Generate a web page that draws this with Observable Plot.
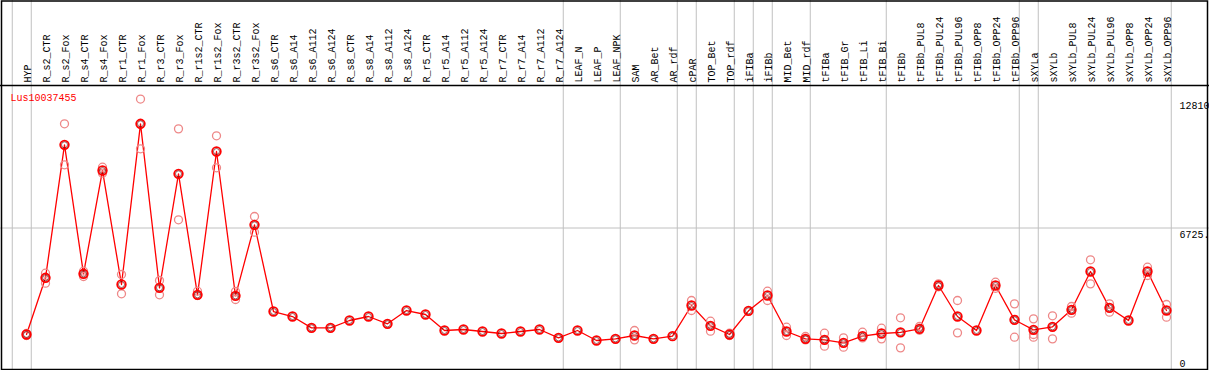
<!DOCTYPE html>
<html><head><meta charset="utf-8">
<script src="https://cdn.jsdelivr.net/npm/d3@7"></script>
<script src="https://cdn.jsdelivr.net/npm/@observablehq/plot@0.6"></script>
<style>body{margin:0;background:#fff}svg{display:block}</style>
</head><body><div id="chart"></div>
<script>
const geneName = "Lus10037455";
const categories = ["HYP","R_s2_CTR","R_s2_Fox","R_s4_CTR","R_s4_Fox","R_r1_CTR","R_r1_Fox","R_r3_CTR","R_r3_Fox","R_r1s2_CTR","R_r1s2_Fox","R_r3s2_CTR","R_r3s2_Fox","R_s6_CTR","R_s6_A14","R_s6_A112","R_s6_A124","R_s8_CTR","R_s8_A14","R_s8_A112","R_s8_A124","R_r5_CTR","R_r5_A14","R_r5_A112","R_r5_A124","R_r7_CTR","R_r7_A14","R_r7_A112","R_r7_A124","LEAF_N","LEAF_P","LEAF_NPK","SAM","AR_Bet","AR_rdf","cPAR","TOP_Bet","TOP_rdf","iFIBa","iFIBb","MID_Bet","MID_rdf","tFIBa","tFIB_Gr","tFIB_Li","tFIB_Bi","tFIBb","tFIBb_PUL8","tFIBb_PUL24","tFIBb_PUL96","tFIBb_OPP8","tFIBb_OPP24","tFIBb_OPP96","sXYLa","sXYLb","sXYLb_PUL8","sXYLb_PUL24","sXYLb_PUL96","sXYLb_OPP8","sXYLb_OPP24","sXYLb_OPP96"];
const means = [1699,4374,10650,4563,9438,4058,11642,3901,9281,3571,10335,3524,6874,2784,2548,2013,2013,2360,2548,2202,2831,2643,1888,1935,1840,1746,1840,1935,1541,1888,1416,1494,1652,1494,1620,3067,2108,1699,2816,3539,1840,1494,1447,1305,1620,1746,1800,1966,4011,2548,1888,4011,2391,1919,2061,2863,4672,2957,2360,4672,2831];
const replicates = [[1750,1650],[4592,4120],[11642,9707],[4686,4436],[9594,9311],[4530,3619],[12810,10462],[4247,3571],[11405,7111],[3743,3540],[11075,9565],[3728,3350],[7267,6527],[],[],[],[],[],[],[],[],[],[],[],[],[],[],[],[],[],[],[],[1888,1447],[],[],[3303,2831],[2328,1856],[1760,1650],[],[3743,3303],[2045,1652],[1605,1447],[1762,1148],[1541,1101],[1809,1541],[1998,1494],[2486,1069],[2076,1900],[4090,3950],[3303,1777],[],[4169,3880],[3146,1573],[2438,1699,1573],[2580,1494],[3020,2706],[5224,4090],[3146,2753],[],[4876,4483],[3115,2517]];
const separatorsAfter = [-1,0,28,31,34,35,37,38,39,41,45,52,53,60];
const maxValue = 12810;
const yTop = 13450.5;
const upperAxisLabels = [{v: maxValue, t: "12810"}, {v: yTop/2, t: "6725."}];
const zeroAxisLabel = [{v: 0, t: "0"}];

const meanData = means.map((v, i) => ({i, v}));
const repData = replicates.flatMap((r, i) => r.map(v => ({i, v})));
const labelData = categories.map((c, i) => ({i, c}));
const font = "Liberation Mono";
const W = 1209, H = 370;

const chart = Plot.plot({
  width: W, height: H,
  margin: 0,
  style: {fontFamily: font, fontSize: "10px", background: "#fff"},
  x: {type: "linear", domain: [-26/19, (W-26)/19], range: [0, W], axis: null},
  y: {type: "linear", domain: [0, yTop], range: [370, 85], axis: null},
  marks: [
    Plot.ruleY([yTop/2], {stroke: "#c0c0c0", strokeWidth: 1}),
    Plot.ruleX(separatorsAfter, {x: d => d + 0.25, stroke: "#c0c0c0", strokeWidth: 1}),
    Plot.ruleY([yTop], {stroke: "#000", strokeWidth: 1.5}),
    Plot.frame({stroke: "#000", strokeWidth: 1.5, insetLeft: 1, insetRight: 2, insetTop: 0.5, insetBottom: 1}),
    Plot.text(labelData, {x: "i", y: () => yTop, text: "c", rotate: -90, textAnchor: "start", lineAnchor: "middle", dy: -3, dx: 1, fill: "#000", fontSize: 10}),
    Plot.line(meanData, {x: "i", y: "v", stroke: "#ff0000", strokeWidth: 1.3}),
    Plot.dot(repData, {x: "i", y: "v", r: 4, stroke: "#ee8888", strokeWidth: 1.3, fill: "none"}),
    Plot.dot(meanData, {x: "i", y: "v", r: 4.3, stroke: "#ff0000", strokeWidth: 1.8, fill: "none"}),
    Plot.dot(meanData, {x: "i", y: "v", r: 3, stroke: "#550000", strokeWidth: 0.6, fill: "none"}),
    Plot.text([geneName], {frameAnchor: "top-left", dx: 10, dy: 97, text: d => d, fill: "#ff0000", textAnchor: "start", lineAnchor: "middle", fontSize: 10}),
    Plot.text(upperAxisLabels, {y: "v", text: "t", frameAnchor: "right", dx: -30, textAnchor: "start", lineAnchor: "top", dy: 3, fill: "#000", fontSize: 10}),
    Plot.text(zeroAxisLabel, {y: "v", text: "t", frameAnchor: "right", dx: -30, textAnchor: "start", lineAnchor: "bottom", dy: -4, fill: "#000", fontSize: 10})
  ]
});
document.getElementById("chart").appendChild(chart);
</script>
</body></html>
